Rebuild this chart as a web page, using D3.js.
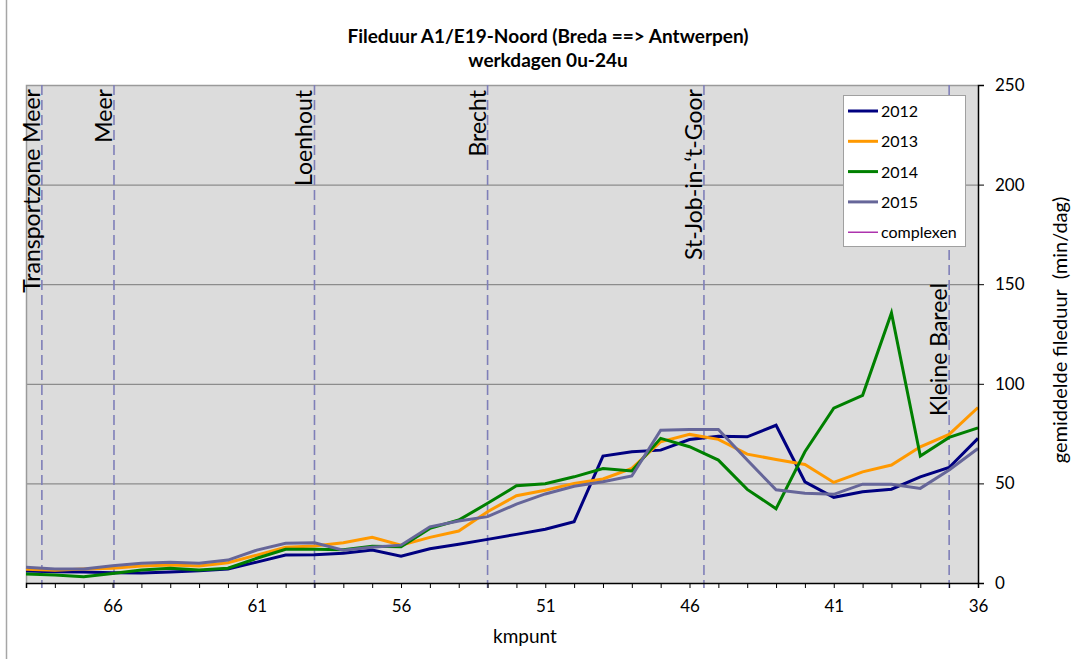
<!DOCTYPE html>
<html>
<head>
<meta charset="utf-8">
<script src="https://cdn.jsdelivr.net/npm/d3@7"></script>
<style>
  html, body { margin: 0; padding: 0; background: #fff; }
  svg { display: block; font-family: Lato, "Open Sans", sans-serif; }
  .keep-spaces { white-space: pre; }
</style>
</head>
<body>
<svg id="chart" width="1075" height="659"></svg>
<script>
// kilometre points along the A1/E19 (driving direction Breda -> Antwerpen)
const kmPoints = [69, 68, 67, 66, 65, 64, 63, 62, 61, 60, 59, 58, 57, 56, 55, 54, 53,
                  52, 51, 50, 49, 48, 47, 46, 45, 44, 43, 42, 41, 40, 39, 38, 37, 36];

// average queue duration per kilometre point (min/day)
const values2012 = [6, 5.7, 5.5, 5.2, 5, 5.5, 6.2, 7, 10.5, 14, 14.2, 14.9, 16.5, 13.5, 17.2, 19.4, 21.9,
                    24.4, 27, 30.8, 63.7, 65.9, 66.7, 72, 73.7, 73.4, 79.2, 50.8, 43, 45.8, 47.1, 53.3, 58, 72.6];
const values2013 = [6.9, 6.4, 7, 7.4, 8.5, 9, 8.5, 10.2, 14, 17.9, 18.6, 20.2, 22.9, 19, 22.9, 26.1, 35.8,
                    43.8, 46.6, 50, 52.2, 57.5, 70.9, 74.6, 72.1, 64.7, 62, 59.5, 50.5, 55.8, 59.2, 68.4, 74.6, 88.1];
const values2014 = [4.5, 4, 3.2, 4.8, 6.5, 7.4, 6.5, 7.4, 12.4, 16.9, 17, 16.7, 18.5, 18.2, 27.4, 31.6, 40,
                    48.8, 49.8, 53.3, 57.5, 56.2, 72.6, 68.4, 61.7, 47, 37.3, 65.9, 87.8, 94.2, 135.6, 63.7, 73.1, 77.9];
const values2015 = [7.9, 7, 7, 8.7, 9.9, 10.4, 9.9, 11.5, 16.5, 19.9, 20.2, 16.5, 17.9, 19, 28.2, 31.1, 33.3,
                    39.6, 44.7, 48.6, 50.8, 53.7, 76.7, 77.1, 77.1, 61.7, 46.8, 45, 44.5, 49.6, 49.6, 47.5, 56.7, 67.5];

const seriesNames = ["2012", "2013", "2014", "2015", "complexen"];
const seriesColors = ["#000080", "#ff9900", "#008000", "#666699", "#990099"];

// interchanges ("complexen") and their kilometre points
const complexNames = ["Transportzone Meer", "Meer", "Loenhout", "Brecht", "St-Job-in-\u2018t-Goor", "Kleine Bareel"];
const complexKm = [68.45, 65.95, 59, 53, 45.5, 37];

const xTickLabels = [66, 61, 56, 51, 46, 41, 36];
const yTicks = [0, 50, 100, 150, 200, 250];

const titleLines = ["Fileduur A1/E19-Noord (Breda ==> Antwerpen)", "werkdagen 0u-24u"];
const xTitle = "kmpunt";
const yTitle = "gemiddelde fileduur  (min/dag)";

const svg = d3.select("#chart");
const plot = { left: 26, right: 978, top: 85, bottom: 583 };

const x = d3.scaleLinear().domain([69, 36]).range([plot.left, plot.right]);
const y = d3.scaleLinear().domain([0, 250]).range([plot.bottom, plot.top]);

// chart area frame
svg.append("rect").attr("x", 6.5).attr("y", -10).attr("width", 1100).attr("height", 700)
  .attr("fill", "#fff").attr("stroke", "#a6a6a6").attr("stroke-width", 1.5);

// plot background
svg.append("rect")
  .attr("x", plot.left).attr("y", plot.top)
  .attr("width", plot.right - plot.left).attr("height", plot.bottom - plot.top)
  .attr("fill", "#dcdcdc");

// horizontal gridlines
svg.append("g").selectAll("line").data(yTicks.filter(v => v > 0 && v < 250)).join("line")
  .attr("x1", plot.left).attr("x2", plot.right)
  .attr("y1", d => y(d) + 0.5).attr("y2", d => y(d) + 0.5)
  .attr("stroke", "#8c8c8c").attr("stroke-width", 1.2);

// plot frame (top / left)
svg.append("path")
  .attr("d", `M${plot.left + 0.5},${plot.bottom}V${plot.top + 0.5}H${plot.right}`)
  .attr("fill", "none").attr("stroke", "#9a9a9a").attr("stroke-width", 1.5);

// interchange markers
const cx = complexKm.map(k => x(k));
svg.append("g").selectAll("line").data(cx).join("line")
  .attr("x1", d => d).attr("x2", d => d)
  .attr("y1", plot.top).attr("y2", plot.bottom + 5)
  .attr("stroke", "#7f7fb8").attr("stroke-width", 1.6)
  .attr("stroke-dasharray", "10,5");

// data lines
const lineGen = d3.line().x((d, i) => x(kmPoints[i])).y(d => y(d));
[values2012, values2013, values2014, values2015].forEach((vals, i) => {
  svg.append("path").datum(vals)
    .attr("d", lineGen)
    .attr("fill", "none")
    .attr("stroke", seriesColors[i])
    .attr("stroke-width", 3)
    .attr("stroke-linejoin", "miter");
});

// interchange labels (rotated)
const labelTop = [89, 89, 90, 90, 89, 283];
complexNames.forEach((name, i) => {
  svg.append("text")
    .attr("transform", `translate(${cx[i] - 2},${labelTop[i]}) rotate(-90)`)
    .attr("text-anchor", "end")
    .attr("font-size", 23)
    .attr("fill", "#000")
    .text(name);
});

// x axis
const xAxis = d3.axisBottom(x)
  .tickValues(d3.range(69, 35, -1))
  .tickSize(5)
  .tickPadding(12)
  .tickFormat(d => xTickLabels.includes(d) ? String(d) : "");
const gx = svg.append("g").attr("transform", `translate(0,${plot.bottom})`).call(xAxis);
gx.select(".domain").attr("stroke", "#000").attr("stroke-width", 1.5);
gx.selectAll(".tick line").attr("stroke", "#000");
gx.selectAll("text").attr("font-size", 17).attr("fill", "#000").attr("font-family", "Lato, sans-serif");

// y axis on the right
const yAxis = d3.axisRight(y).tickValues(yTicks).tickSize(6).tickPadding(11);
const gy = svg.append("g").attr("transform", `translate(${plot.right},0)`).call(yAxis);
gy.select(".domain").attr("stroke", "#000").attr("stroke-width", 1.5);
gy.selectAll(".tick line").attr("stroke", "#000");
gy.selectAll("text").attr("font-size", 17).attr("fill", "#000").attr("font-family", "Lato, sans-serif");

// titles
svg.append("g").selectAll("text").data(titleLines).join("text")
  .attr("x", 548).attr("y", (d, i) => 43 + i * 24)
  .attr("text-anchor", "middle").attr("font-weight", "bold").attr("font-size", 19)
  .text(d => d);

svg.append("text").attr("x", 525).attr("y", 643).attr("text-anchor", "middle")
  .attr("font-size", 19).text(xTitle);

svg.append("text")
  .attr("class", "keep-spaces")
  .attr("transform", `translate(1067,330) rotate(-90)`)
  .attr("text-anchor", "middle").attr("font-size", 20)
  .text(yTitle);

// legend
const legend = svg.append("g");
legend.append("rect").attr("x", 843.5).attr("y", 95.5).attr("width", 122).attr("height", 151)
  .attr("fill", "#fff").attr("stroke", "#a0a0a0");
seriesNames.forEach((name, i) => {
  const ly = 111 + i * 30.3;
  legend.append("line").attr("x1", 848).attr("x2", 878).attr("y1", ly).attr("y2", ly)
    .attr("stroke", seriesColors[i]).attr("stroke-width", i === 4 ? 1.2 : 3);
  legend.append("text").attr("x", 881).attr("y", ly + 6).attr("font-size", 16).text(name);
});
</script>
</body>
</html>
